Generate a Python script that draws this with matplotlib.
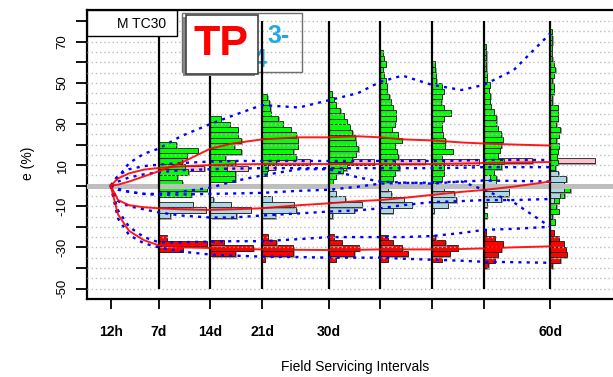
import matplotlib
matplotlib.use("Agg")
import matplotlib.pyplot as plt
import matplotlib.patheffects as pe
from matplotlib.patches import Rectangle

plt.rcParams['font.family'] = ['Liberation Sans', 'DejaVu Sans']

# field servicing intervals (days) and axis labels
intervals = [7, 14, 21, 30, 37, 44, 51, 60]
tick_days = [0.5, 7, 14, 21, 30, 37, 44, 51, 60]
tick_labels = ['12h', '7d', '14d', '21d', '30d', '', '', '', '60d']
bin_h = 2.65

# histograms per interval: lower edge of first bin, then bar lengths (days) upwards
green_start = [-5.3, 2.0, 4.7, 0.8, -0.5, -0.5, -23.9, -19.1]
green_bars = [
    [4.4, 6.5, 3.2, 2.5, 4.0, 3.5, 3.2, 3.8, 5.3, 2.4],
    [3.4, 3.4, 2.2, 3.4, 2.0, 4.2, 3.25, 4.2, 3.7, 3.7, 2.6, 1.4],
    [0.6, 0.8, 1.9, 4.65, 4.2, 4.8, 4.8, 4.65, 3.9, 2.8, 2.2, 1.2, 1.1, 1.0, 0.7],
    [0.6, 0.95, 1.9, 2.5, 3.2, 3.65, 4.0, 3.65, 3.6, 3.2, 2.85, 2.5, 2.1, 1.6, 0.95, 0.7, 0.4],
    [1.35, 1.67, 2.0, 2.57, 2.0, 2.44, 2.26, 2.0, 2.9, 2.35, 1.53, 2.0, 2.1, 2.1, 1.67,
     1.45, 1.2, 0.9, 0.9, 0.77, 0.45, 0.3, 0.77, 0.45, 0.3],
    [0.45, 1.35, 1.6, 1.6, 1.6, 1.35, 2.85, 1.7, 1.8, 1.5, 1.35, 1.35, 1.6, 2.57, 1.6,
     1.26, 1.35, 1.6, 1.35, 0.6, 0.5, 0.45, 0.36],
    [0.3, 0, 0, 0.45, 0, 0.45, 0, 0, 0,
     0.6, 1.7, 1.35, 2.4, 2.7, 1.9, 2.2, 2.4, 2.6, 2.4, 1.9, 1.7, 1.7, 1.35, 1.0, 0.8,
     0.9, 0.7, 0.8, 0.45, 0.45, 0.36, 0.36, 0.36, 0.36, 0.3],
    [0.6, 0.3, 1.15, 0.8, 1.2, 1.9, 2.7, 1.0, 0.9, 0.8, 0.7, 1.05, 0.9, 1.05, 1.15, 0.8,
     1.2, 1.35, 0.8, 1.05, 1.05, 1.05, 0.3, 0.3, 0.45, 0.45, 0.3, 0.45, 0.7, 0.45, 0.3,
     0.25, 0.25, 0.3, 0.3, 0.25],
]
pink_start = [7.1, 7.1, 7.6, 7.5, 10.4, 10.2, 10.8, 10.8]
pink_bars = [[6.2], [5.1], [1.8, 6.5], [2.4, 6.1], [6.0], [6.3], [6.6], [6.05]]
lblue_start = [-15.9, -15.9, -15.8, -15.8, -13.4, -13.4, -10.5, -8.6]
lblue_bars = [
    [1.6, 6.4, 4.6], [3.5, 5.5, 2.8, 0.4], [1.8, 4.65, 4.3, 1.3],
    [0.5, 3.5, 4.5, 2.25, 1.0, 0.6], [1.67, 4.25, 3.2, 1.5, 1.0],
    [0.25, 2.1, 3.3, 3.0, 1.6], [0.45, 2.4, 3.4, 3.4, 1.6, 0.8],
    [0.45, 1.35, 1.8, 1.8, 2.2, 1.1],
]
red_start = [-32.1, -34.3, -36.9, -36.9, -37.0, -37.0, -40.2, -40.2]
red_bars = [
    [3.3, 6.5, 1.1], [3.4, 5.8, 1.8], [0.36, 4.2, 4.2, 1.95, 0.8],
    [1.0, 3.5, 4.15, 1.8, 0.7], [1.0, 3.7, 3.0, 1.67, 1.0], [1.35, 2.4, 3.5, 1.8, 0.45],
    [0.6, 1.5, 1.9, 2.4, 2.6, 1.5, 0.3], [0.3, 1.35, 2.25, 2.1, 1.8, 1.15, 0.45],
]

# median (red) and quantile (blue dotted) curves of e over time
curve_days = [0.5, 1.5, 3, 5, 7, 10, 14, 17, 21, 26, 30, 34, 37, 40, 44, 48, 51, 55, 60]
green_med = [0, 0.5, 2, 4.5, 7, 11, 18, 20.5, 22.5, 23.5, 23.5, 24, 23.5, 22.5, 22, 21, 20.5, 20, 19.5]
green_hi = [0, 4, 11, 15.5, 18, 24, 30, 34, 39.2, 38, 41.5, 45, 50.5, 53.5, 49, 46.5, 49, 56, 74]
green_lo = [0, -1.5, -3, -4, -4, -3, -1, 2, 5, 8, 8, 4, 2, 1.5, 1, 2, -2, -8, -20]
pink_med = [0, 3.5, 6, 7.8, 8.6, 9.4, 10, 10.3, 10.5, 10.5, 10.5, 10.5, 10.5, 10.5, 10.5, 10.7, 11, 11.2, 11.5]
pink_hi = [0, 5, 8, 9.5, 10.2, 11, 11.7, 12, 12, 12, 12, 12, 12, 12, 12, 12.2, 12.5, 12.5, 12.5]
pink_lo = [0, 2, 4, 5.5, 6.5, 7.5, 8, 8.3, 8.5, 8.5, 8.5, 8.5, 8.5, 8.5, 8.5, 8.7, 9, 9, 9]
lblue_med = [0, -7, -9.5, -10.5, -11, -11.5, -11.8, -11.5, -11, -9.5, -8.6, -7.5, -7, -6, -4.5, -3, -2.1, -0.5, 2]
lblue_hi = [0, -2, -3, -4, -4.5, -4.3, -4, -3.8, -3.5, -2.5, -2, -0.5, 1, 1.3, 1.5, 2, 2.5, 2.3, 2]
lblue_lo = [0, -7.5, -10, -11.5, -13, -14.5, -15.5, -15.5, -14.5, -13.5, -12.6, -12, -11, -9.5, -8, -7.5, -7, -7, -6.5]
red_med = [0, -14, -22, -26.5, -29, -30, -30.3, -30.7, -31, -31.2, -31.3, -31.2, -31, -31, -31, -30.8, -30.5, -30, -29.5]
red_hi = [0, -12, -20, -25, -27.5, -27.5, -27.2, -27, -27, -26, -25, -25, -25, -25, -24.5, -23, -21.5, -21, -20]
red_lo = [0, -16, -24, -28, -30, -32, -33.5, -34, -34.5, -34.7, -35, -35, -35, -35.5, -36, -36.5, -37, -37.2, -37.5]

W, H = 613, 377
fig = plt.figure(figsize=(W / 100, H / 100), dpi=100)
ax = fig.add_axes([86.7 / W, 1 - 299 / H, 543.3 / W, 289 / H])
ax.set_xlim(-2.74, 70.8)
ax.set_ylim(-55.1, 85.4)

# dotted reference grid
for v in range(-50, 81, 5):
    ax.axhline(v, color='#bdbdbd', lw=1.0, ls=(0, (1, 2)), zorder=4.5)

shadow = [pe.withSimplePatchShadow(offset=(1.0, -1.0), shadow_rgbFace='#8c8c8c', alpha=0.8)]


def draw_hist(starts, bars, color, z):
    for x0, s, ws in zip(intervals, starts, bars):
        ys = [s + bin_h * k for k, w in enumerate(ws) if w > 0]
        wd = [w for w in ws if w > 0]
        hb = ax.barh(ys, wd, height=bin_h, left=x0, align='edge', color=color,
                     edgecolor='#1a1a1a', linewidth=0.6, zorder=z)
        for p in hb.patches:
            p.set_path_effects(shadow)


draw_hist(pink_start, pink_bars, '#ffc0cb', 2)
draw_hist(green_start, green_bars, '#00ff00', 3)
draw_hist(lblue_start, lblue_bars, '#add8e6', 4)
draw_hist(red_start, red_bars, '#ff0000', 4.2)

ax.axhline(0, color='#bebebe', lw=3.6, zorder=5)
ax.vlines(intervals, -50, 80, color='black', lw=1.6, zorder=6)

for med, hi, lo in [(green_med, green_hi, green_lo), (pink_med, pink_hi, pink_lo),
                    (lblue_med, lblue_hi, lblue_lo), (red_med, red_hi, red_lo)]:
    ax.plot(curve_days, hi, color='blue', lw=1.7, ls=(0, (1.3, 2.2)), zorder=7)
    ax.plot(curve_days, lo, color='blue', lw=1.7, ls=(0, (1.3, 2.2)), zorder=7)
    ax.plot(curve_days, med, color='red', lw=1.4, alpha=0.9, zorder=7.5)

ax.set_xticks(tick_days)
ax.set_xticklabels(tick_labels, fontweight='bold')
ax.set_yticks(range(-50, 81, 10))
ax.set_yticklabels([str(v) if v % 20 == 10 else '' for v in range(-50, 81, 10)],
                   rotation=90, va='center')
ax.tick_params(axis='x', length=7, width=1.3, pad=12, labelsize=10)
ax.tick_params(axis='y', length=8, width=1.3, pad=5, labelsize=9.5)
for side in ['left', 'bottom', 'top']:
    ax.spines[side].set_linewidth(1.6)
ax.spines['right'].set_visible(False)


def px(x, y):
    return x / W, 1 - y / H


# legend boxes
fig_tr = fig.transFigure
ax.add_patch(Rectangle(px(182.3, 72), 120 / W, 59 / H, transform=fig_tr, clip_on=False,
                       facecolor='none', edgecolor='#6e6e6e', lw=1.0, zorder=5.5))
ax.text(*px(279, 36), '3-', transform=fig_tr, color='#1ea8e6', fontsize=18,
        fontweight='bold', ha='center', va='center', zorder=5.6)
ax.text(*px(260, 60), '4', transform=fig_tr, color='#1ea8e6', fontsize=18,
        fontweight='bold', ha='center', va='center', zorder=5.6)
tp_box = Rectangle(px(185.7, 73.5), 72 / W, 58.5 / H, transform=fig_tr, clip_on=False,
                   facecolor='white', edgecolor='#444444', lw=1.2, zorder=8)
tp_box.set_path_effects([pe.withSimplePatchShadow(offset=(-2, -1.5), shadow_rgbFace='#888888', alpha=1)])
ax.add_patch(tp_box)
ax.text(*px(221, 44), 'TP', transform=fig_tr, color='red', fontsize=31,
        fontweight='bold', ha='center', va='center', zorder=8.5)
ax.add_patch(Rectangle(px(86.7, 36), 90 / W, 26 / H, transform=fig_tr, clip_on=False,
                       facecolor='white', edgecolor='black', lw=1.0, zorder=8))
ax.text(*px(142, 23.5), 'M TC30', transform=fig_tr, fontsize=10,
        ha='center', va='center', zorder=8.5)

fig.text(*px(355, 367), 'Field Servicing Intervals', ha='center', va='center', fontsize=10)
fig.text(*px(28, 163), 'e (%)', rotation=90, ha='center', va='center', fontsize=10)

fig.savefig('out.png', dpi=100)
